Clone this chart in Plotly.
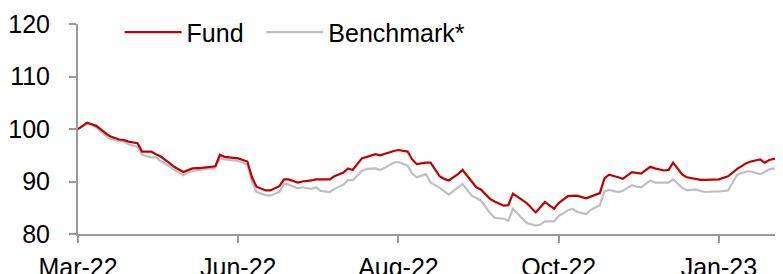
import pandas as pd
import plotly.graph_objects as go

# Observation dates: every second business day from 31-Mar-2022
dates = pd.bdate_range("2022-03-31", periods=111, freq="2B")

fund = [
    100.0, 101.2, 100.9, 100.6, 99.2, 98.6, 98.0, 97.9, 97.6, 97.3,
    95.7, 95.7, 95.2, 94.8, 93.5, 92.8, 91.8, 92.1, 92.5, 92.6,
    92.7, 92.9, 95.1, 94.7, 94.5, 94.4, 93.8, 90.8, 89.0, 88.3,
    88.3, 89.1, 90.4, 90.4, 89.8, 90.0, 90.2, 90.4, 90.4, 90.4,
    91.0, 91.7, 92.5, 92.2, 94.4, 94.7, 95.2, 95.0, 95.3, 95.8,
    96.0, 95.7, 94.2, 93.3, 93.6, 93.6, 91.0, 90.5, 90.2, 91.4,
    92.2, 90.0, 88.9, 88.5, 86.7, 86.2, 85.4, 85.5, 87.7, 86.5,
    85.9, 84.1, 85.1, 86.1, 84.8, 85.9, 87.2, 87.3, 87.3, 86.8,
    87.1, 87.8, 90.6, 91.3, 90.8, 90.5, 91.8, 91.6, 91.5, 92.8,
    92.5, 92.1, 92.2, 93.6, 91.3, 90.8, 90.5, 90.3, 90.3, 90.3,
    90.4, 91.0, 91.7, 92.4, 93.5, 93.8, 94.2, 93.6, 94.1, 94.5,
    94.2,
]

benchmark = [
    100.0, 101.0, 100.8, 100.3, 98.8, 98.2, 97.7, 97.6, 97.1, 96.6,
    95.1, 94.6, 94.6, 93.9, 92.9, 92.2, 91.2, 91.7, 92.0, 92.3,
    92.4, 92.6, 94.5, 94.2, 94.0, 93.9, 93.2, 90.0, 88.0, 87.4,
    87.3, 88.0, 89.6, 89.4, 88.7, 88.9, 88.6, 88.9, 88.2, 88.0,
    88.6, 89.4, 90.3, 90.2, 92.0, 92.4, 92.5, 92.2, 92.6, 93.6,
    93.7, 93.0, 91.5, 90.8, 91.4, 89.8, 88.8, 88.1, 87.5, 88.9,
    89.5, 87.3, 86.9, 86.4, 84.0, 83.1, 82.9, 82.5, 84.8, 83.1,
    82.1, 81.6, 81.8, 82.4, 82.4, 83.4, 84.5, 84.8, 84.2, 83.8,
    84.6, 85.5, 88.1, 88.4, 88.0, 88.2, 89.3, 89.0, 88.9, 90.2,
    89.8, 89.8, 89.8, 90.4, 88.8, 88.3, 88.5, 88.2, 88.0, 88.1,
    88.1, 88.3, 89.8, 91.3, 91.9, 91.9, 91.4, 91.9, 92.3, 92.6,
    92.2,
]

tick_dates = ["2022-03-31", "2022-06-09", "2022-08-18", "2022-10-27", "2023-01-05"]
tick_labels = ["Mar-22", "Jun-22", "Aug-22", "Oct-22", "Jan-23"]
y_ticks = [80, 90, 100, 110, 120]

FONT = "Liberation Sans, Arial, sans-serif"
FS = 25

fig = go.Figure()
fig.add_trace(go.Scatter(
    x=dates, y=benchmark, mode="lines", name="Benchmark*",
    line=dict(color="#BFBFBF", width=2.2), legend="legend2",
))
fig.add_trace(go.Scatter(
    x=dates, y=fund, mode="lines", name="Fund",
    line=dict(color="#C00000", width=2.2), legend="legend",
))

legend_common = dict(
    orientation="h", yanchor="middle", xanchor="left",
    bgcolor="rgba(0,0,0,0)", font=dict(size=FS), itemwidth=57,
)

# The page body adds an 8px offset, so the figure is 8px smaller
fig.update_layout(
    width=775, height=266,
    margin=dict(l=70, r=0, t=16, b=40),
    paper_bgcolor="white", plot_bgcolor="white",
    font=dict(family=FONT, size=FS, color="#000000"),
    showlegend=True,
    legend=dict(x=0.059, y=0.96, **legend_common),
    legend2=dict(x=0.26, y=0.96, **legend_common),
    xaxis=dict(
        type="date", automargin=False,
        range=[dates[0], pd.Timestamp("2023-02-02")],
        tickmode="array", tickvals=tick_dates, ticktext=tick_labels,
        showgrid=False, zeroline=False,
        showline=True, linecolor="#999999", linewidth=2,
        ticks="outside", ticklen=7, tickwidth=1.5, tickcolor="#999999",
        tickfont=dict(size=FS), ticklabelstandoff=3,
    ),
    yaxis=dict(
        range=[80, 120], tickmode="array", tickvals=y_ticks, automargin=False,
        showgrid=False, zeroline=False,
        showline=True, linecolor="#999999", linewidth=2,
        ticks="outside", ticklen=7, tickwidth=1.5, tickcolor="#999999",
        tickfont=dict(size=FS), ticklabelstandoff=14,
    ),
)

fig.write_html("out.html")
